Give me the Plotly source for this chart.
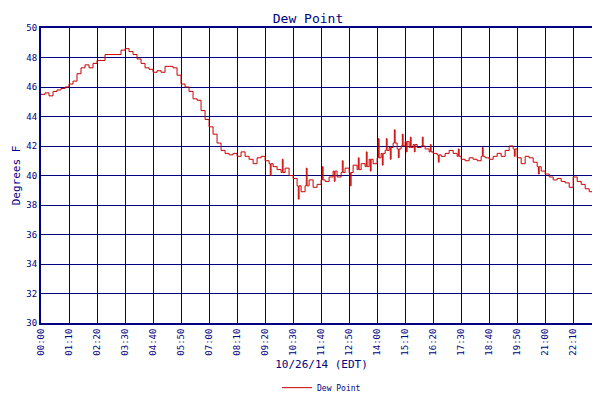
import plotly.graph_objects as go

# minutes since midnight, 10-minute steps
minutes = list(range(0, 1410, 10))
dew = [
 45.5,45.6,45.4,45.7,45.8,45.9,46.0,46.2,46.4,46.9,47.3,47.5,47.3,47.6,47.8,47.8,48.2,48.2,48.2,48.2,  # 0:00-3:10
 48.5,48.6,48.4,48.2,47.9,47.6,47.3,47.2,47.0,47.1,47.0,47.4,47.4,47.3,46.8,46.2,46.0,45.7,45.2,45.1,  # 3:20-6:30
 44.4,43.8,43.3,42.8,42.2,41.7,41.5,41.4,41.5,41.3,41.6,41.3,41.1,40.8,41.2,41.3,41.0,40.8,40.6,40.4,  # 6:40-9:50
 40.2,40.5,40.0,39.8,39.3,38.9,39.3,39.7,39.2,39.4,39.7,39.6,39.9,40.3,39.9,40.2,40.5,40.2,40.7,40.4,  # 10:00-13:10
 40.8,40.6,41.1,40.8,41.2,41.5,41.7,41.9,42.2,41.8,42.0,42.3,41.9,42.1,41.9,42.0,41.8,41.6,41.5,41.4,  # 13:20-16:30
 41.3,41.5,41.7,41.5,41.3,41.1,41.0,41.2,41.1,41.0,41.3,41.2,41.1,41.3,41.5,41.3,41.7,42.0,41.8,41.2,  # 16:40-19:50
 40.8,41.3,41.2,40.9,40.6,40.3,40.1,39.9,39.7,39.8,39.6,39.5,39.2,39.9,39.6,39.4,39.1,38.9,38.7,38.6,38.7  # 20:00-23:20
]
# occasional spikes (deltas) at given minute indices
spike_idx = [57,60,64,66,70,73,75,77,79,81,82,84,85,86,87,88,89,90,91,92,93,95,97,99,104,110,118,124]
spike_val = [-0.8,0.9,-0.9,1.2,0.9,-0.7,0.8,-0.9,0.8,1.0,-0.8,1.3,-0.8,0.8,-0.8,0.9,-0.6,0.8,-0.7,0.7,-0.5,0.6,0.5,-0.5,0.5,0.6,-0.5,-0.5]

xs, ys = [], []
for i, (m, v) in enumerate(zip(minutes, dew)):
    xs.append(m); ys.append(v)
    if i in spike_idx:
        d = spike_val[spike_idx.index(i)]
        xs.append(m + 3); ys.append(v + d)
        xs.append(m + 5); ys.append(v)

tickvals = list(range(0, 1401, 70))
ticktext = [f"{t//60:02d}:{t%60:02d}" for t in tickvals]

navy = "#000080"
fig = go.Figure(go.Scatter(x=xs, y=ys, mode="lines", line=dict(color="#cc0000", width=1, shape="hv"),
                           name="Dew Point"))
fig.update_layout(
    width=600, height=400, paper_bgcolor="white", plot_bgcolor="white",
    margin=dict(l=33, r=6, t=20, b=63),
    font=dict(family="DejaVu Sans Mono", size=9, color=navy),
    title=dict(text="Dew Point", x=0.5, y=0.985, xanchor="center", font=dict(size=13, color=navy)),
    showlegend=True,
    legend=dict(orientation="h", x=0.5, xanchor="center", y=-0.17, yanchor="top", font=dict(size=8)),
    xaxis=dict(range=[0, 1402], tickvals=tickvals, ticktext=ticktext, tickangle=-90, automargin=False,
               showgrid=True, gridcolor=navy, gridwidth=1, showline=True, linecolor=navy, linewidth=2,
               mirror=True, zeroline=False, ticks="",
               title=dict(text="10/26/14 (EDT)", font=dict(size=11), standoff=6)),
    yaxis=dict(range=[30, 50], dtick=2, showgrid=True, gridcolor=navy, gridwidth=1, automargin=False,
               showline=True, linecolor=navy, linewidth=2, mirror=True, zeroline=False, ticks="",
               title=dict(text="Degrees F", font=dict(size=11), standoff=4)),
)
fig.write_html("out.html")
